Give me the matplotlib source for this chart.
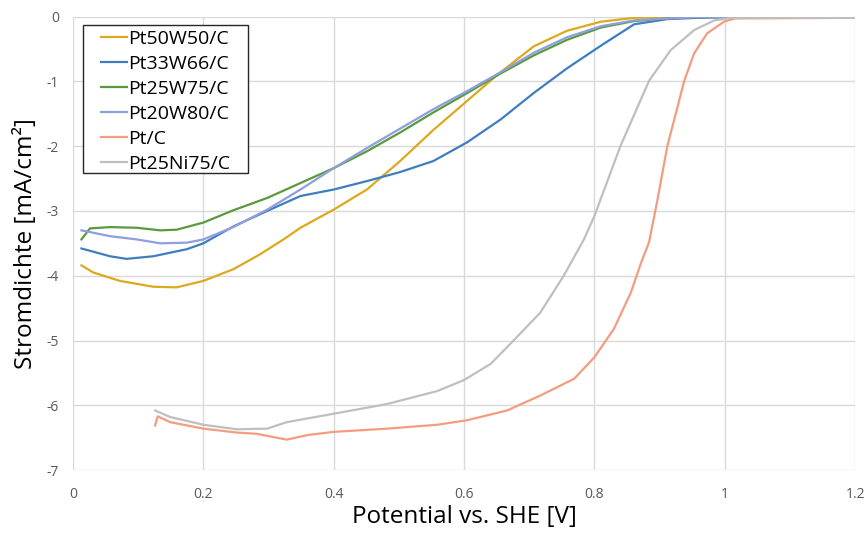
import matplotlib

matplotlib.use("Agg")
import matplotlib.pyplot as plt
from matplotlib.patches import Rectangle

plt.rcParams["font.family"] = ["Open Sans", "DejaVu Sans"]
plt.rcParams["axes.unicode_minus"] = False

# values (potential in V, current density in mA/cm2)
labels = ["Pt50W50/C", "Pt33W66/C", "Pt25W75/C", "Pt20W80/C", "Pt/C", "Pt25Ni75/C"]
colors = ["#DDA91C", "#3F7DC1", "#5A9A3C", "#8F9EDD", "#F39C7F", "#BFBFBF"]

x_pt50w50 = [0.013, 0.031, 0.072, 0.123, 0.159, 0.2, 0.246, 0.287, 0.323, 0.349, 0.4, 0.451,
             0.502, 0.553, 0.605, 0.651, 0.707, 0.758, 0.81, 0.861, 0.92, 1.0, 1.2]
y_pt50w50 = [-3.84, -3.95, -4.08, -4.17, -4.18, -4.08, -3.90, -3.67, -3.44, -3.26, -2.98, -2.67,
             -2.23, -1.75, -1.30, -0.90, -0.46, -0.22, -0.08, -0.02, -0.01, -0.01, -0.02]

x_pt33w66 = [0.013, 0.057, 0.082, 0.123, 0.175, 0.2, 0.246, 0.298, 0.349, 0.4, 0.451, 0.502,
             0.553, 0.605, 0.656, 0.707, 0.758, 0.81, 0.861, 0.912, 0.96, 1.0, 1.2]
y_pt33w66 = [-3.58, -3.70, -3.74, -3.70, -3.59, -3.50, -3.24, -3.00, -2.77, -2.67, -2.54, -2.40,
             -2.23, -1.94, -1.59, -1.18, -0.80, -0.45, -0.12, -0.04, -0.02, -0.01, -0.02]

x_pt25w75 = [0.013, 0.026, 0.057, 0.098, 0.134, 0.159, 0.2, 0.246, 0.298, 0.349, 0.4, 0.451,
             0.502, 0.553, 0.605, 0.656, 0.707, 0.758, 0.81, 0.861, 0.912, 0.96, 1.2]
y_pt25w75 = [-3.44, -3.27, -3.25, -3.26, -3.30, -3.29, -3.18, -2.99, -2.80, -2.57, -2.34, -2.08,
             -1.79, -1.48, -1.18, -0.88, -0.60, -0.36, -0.17, -0.07, -0.03, -0.01, -0.02]

x_pt20w80 = [0.013, 0.057, 0.098, 0.134, 0.175, 0.2, 0.246, 0.298, 0.349, 0.4, 0.451, 0.502,
             0.553, 0.605, 0.656, 0.707, 0.758, 0.81, 0.861, 0.912, 0.96, 1.2]
y_pt20w80 = [-3.30, -3.39, -3.44, -3.50, -3.49, -3.44, -3.25, -2.98, -2.67, -2.34, -2.03, -1.73,
             -1.43, -1.15, -0.86, -0.56, -0.32, -0.15, -0.06, -0.03, -0.01, -0.02]

x_ptc = [0.126, 0.13, 0.149, 0.2, 0.251, 0.282, 0.328, 0.359, 0.4, 0.482, 0.559, 0.605, 0.666,
         0.717, 0.769, 0.8, 0.83, 0.856, 0.871, 0.884, 0.897, 0.912, 0.938, 0.953, 0.973,
         0.999, 1.015, 1.2]
y_ptc = [-6.31, -6.17, -6.26, -6.36, -6.42, -6.44, -6.53, -6.46, -6.41, -6.36, -6.30, -6.23,
         -6.08, -5.85, -5.59, -5.26, -4.82, -4.26, -3.82, -3.48, -2.82, -2.00, -0.99, -0.57,
         -0.26, -0.08, -0.03, -0.02]

x_pt25ni75 = [0.126, 0.149, 0.2, 0.251, 0.298, 0.328, 0.4, 0.482, 0.559, 0.6, 0.641, 0.676,
              0.717, 0.753, 0.784, 0.8, 0.84, 0.884, 0.917, 0.953, 0.984, 1.01, 1.2]
y_pt25ni75 = [-6.08, -6.18, -6.30, -6.37, -6.36, -6.26, -6.13, -5.98, -5.78, -5.61, -5.36, -5.00,
              -4.57, -4.00, -3.44, -3.08, -2.00, -0.99, -0.52, -0.21, -0.06, -0.02, -0.02]

series = [(x_pt50w50, y_pt50w50), (x_pt33w66, y_pt33w66), (x_pt25w75, y_pt25w75),
          (x_pt20w80, y_pt20w80), (x_ptc, y_ptc), (x_pt25ni75, y_pt25ni75)]

fig = plt.figure(figsize=(8.67, 5.33), dpi=100)
ax = fig.add_axes([0.0842, 0.118, 0.902, 0.851])

for (xs, ys), label, color in zip(series, labels, colors):
    ax.plot(xs, ys, color=color, lw=1.6, label=label)

ax.set_xlim(0, 1.2)
ax.set_ylim(-7, 0)
ax.set_xticks([0, 0.2, 0.4, 0.6, 0.8, 1.0, 1.2])
ax.set_xticklabels(["0", "0.2", "0.4", "0.6", "0.8", "1", "1.2"])
ax.set_yticks(range(-7, 1))
ax.grid(True, color="#D9D9D9", lw=1)
ax.set_axisbelow(True)
for s in ax.spines.values():
    s.set_visible(False)
ax.tick_params(length=0, labelsize=10, colors="#595959")
ax.tick_params(axis="x", pad=12)
ax.tick_params(axis="y", pad=10)

ax.set_xlabel("Potential vs. SHE [V]", fontsize=17.5, labelpad=2)
ax.set_ylabel("Stromdichte [mA/cm²]", fontsize=17.5, labelpad=6)

# Excel-style legend box: wide side padding, tight top/bottom
ax.add_patch(Rectangle((0.0128, 0.656), 0.211, 0.3253, transform=ax.transAxes,
                       facecolor="white", edgecolor="#262626", lw=1.0, zorder=4))
leg = ax.legend(loc="upper left", bbox_to_anchor=(0.036, 0.971), fontsize=14,
                frameon=False, handlelength=1.35, handletextpad=0.05,
                labelspacing=0.36, borderpad=0, borderaxespad=0)
leg.set_zorder(5)

fig.savefig("out.png", dpi=100)
